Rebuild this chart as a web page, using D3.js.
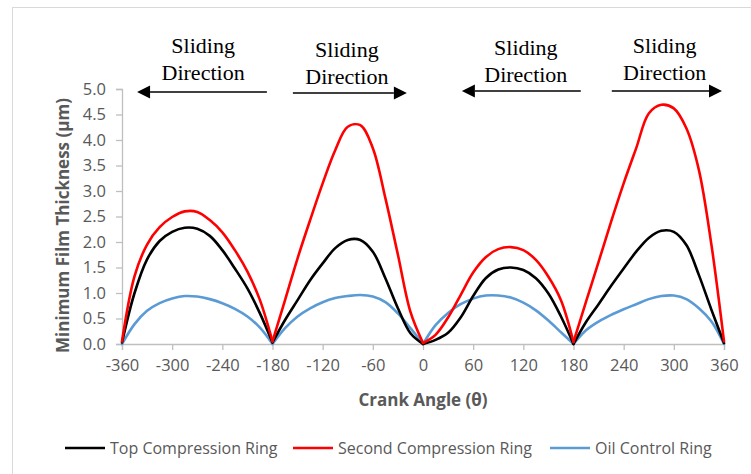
<!DOCTYPE html>
<html>
<head>
<meta charset="utf-8">
<script src="https://cdn.jsdelivr.net/npm/d3@7"></script>
<style>
  html, body { margin: 0; padding: 0; background: #fff; }
  svg { display: block; }
</style>
</head>
<body>
<svg id="chart" width="751" height="474"></svg>
<script>
// ---- Data ----
const crankAngles = [
  -360,-345,-330,-315,-300,-285,-270,-255,-240,-225,-210,-195,
  -180,-165,-150,-135,-120,-105,-90,-75,-60,-45,-30,-15,
  0,15,30,45,60,75,90,105,120,135,150,165,
  180,195,210,225,240,255,270,285,300,315,330,345,360
];
const topCompression = [
  0.03,1.00,1.66,2.02,2.20,2.28,2.26,2.12,1.84,1.48,1.09,0.60,
  0.03,0.47,0.86,1.25,1.58,1.88,2.04,2.04,1.81,1.29,0.70,0.21,
  0.00,0.08,0.22,0.52,0.94,1.29,1.46,1.50,1.45,1.29,0.99,0.54,
  0.00,0.43,0.78,1.14,1.48,1.81,2.08,2.22,2.20,1.94,1.35,0.67,0.02
];
const secondCompression = [
  0.05,1.33,1.95,2.29,2.49,2.60,2.59,2.43,2.19,1.84,1.42,0.86,
  0.05,0.86,1.68,2.43,3.15,3.80,4.26,4.29,3.84,2.86,1.75,0.63,
  0.02,0.18,0.52,0.96,1.40,1.70,1.86,1.90,1.84,1.65,1.32,0.86,
  0.04,0.83,1.61,2.40,3.15,3.84,4.52,4.69,4.62,4.23,3.41,1.94,0.05
];
const oilControl = [
  0.00,0.39,0.65,0.80,0.89,0.94,0.93,0.88,0.80,0.69,0.54,0.32,
  0.00,0.31,0.54,0.70,0.82,0.90,0.94,0.96,0.93,0.82,0.60,0.31,
  0.00,0.37,0.61,0.78,0.89,0.95,0.95,0.91,0.81,0.66,0.46,0.23,
  0.00,0.27,0.44,0.57,0.68,0.78,0.88,0.94,0.95,0.88,0.70,0.44,0.00
];
const strokeBreaks = [-360, -180, 0, 180, 360];   // TDC/BDC reversal points
const xTicks = [-360,-300,-240,-180,-120,-60,0,60,120,180,240,300,360];
const yTicks = [0,0.5,1,1.5,2,2.5,3,3.5,4,4.5,5];
const seriesNames = ["Top Compression Ring", "Second Compression Ring", "Oil Control Ring"];
const seriesColors = ["#000000", "#ff0000", "#5b9bd5"];
// annotations: text centre angle, arrow from/to angle (data units)
const annoCenter = [-263, -91, 123, 289];
const annoFrom   = [-186.7, -155.6, 188.7, 225.8];
const annoTo     = [-342, -19.3, 46.5, 357.6];
const annoLevel  = [4.94, 4.92, 4.96, 4.96];
const annoTextTop = [5.71, 5.63, 5.67, 5.71];
const annoTextBot = [5.18, 5.10, 5.14, 5.18];

// ---- Layout ----
const svg = d3.select("#chart");
const plotLeft = 122, plotRight = 724, plotTop = 89, plotBottom = 344;

svg.append("rect").attr("x", 12.5).attr("y", 7.5).attr("width", 800).attr("height", 500)
  .attr("fill", "none").attr("stroke", "#d9d9d9").attr("stroke-width", 1);

const x = d3.scaleLinear().domain([-360, 360]).range([plotLeft, plotRight]);
const y = d3.scaleLinear().domain([0, 5]).range([plotBottom, plotTop]);

const tickFont = "'Open Sans', sans-serif";

// Y axis
const yAxis = svg.append("g").attr("transform", `translate(${plotLeft},0)`)
  .call(d3.axisLeft(y).tickValues(yTicks).tickFormat(d3.format(".1f")).tickSizeOuter(0).tickSize(6).tickPadding(10));
// X axis
const xAxis = svg.append("g").attr("transform", `translate(0,${plotBottom})`)
  .call(d3.axisBottom(x).tickValues(xTicks).tickFormat(d3.format("d")).tickSizeOuter(0).tickSize(6).tickPadding(9));

[yAxis, xAxis].forEach(g => {
  g.select(".domain").attr("stroke", "#bfbfbf").attr("stroke-width", 1.3);
  g.selectAll(".tick line").attr("stroke", "#bfbfbf").attr("stroke-width", 1.3);
  g.selectAll(".tick text").attr("fill", "#595959")
    .style("font-family", tickFont).style("font-size", "16.5px");
});
xAxis.selectAll(".tick text").text(d => d < 0 ? "-" + Math.abs(d) : d);

// Axis titles
svg.append("text").attr("x", x(0)).attr("y", 406).attr("text-anchor", "middle")
  .style("font-family", tickFont).style("font-size", "17px").style("font-weight", "bold")
  .attr("fill", "#595959").text("Crank Angle (θ)");
svg.append("text").attr("transform", `translate(69,${(plotTop + plotBottom) / 2 + 9}) rotate(-90)`)
  .attr("text-anchor", "middle")
  .style("font-family", tickFont).style("font-size", "17px").style("font-weight", "bold")
  .attr("fill", "#595959").text("Minimum Film Thickness (µm)");

// Lines (each stroke drawn as its own segment so reversal points stay sharp)
const allSeries = [topCompression, secondCompression, oilControl];
const line = d3.line().x(d => x(d[0])).y(d => y(d[1])).curve(d3.curveCatmullRom.alpha(0.5));
const drawOrder = [2, 0, 1];
drawOrder.forEach(si => {
  const vals = allSeries[si];
  for (let k = 0; k < strokeBreaks.length - 1; k++) {
    const seg = crankAngles.map((a, i) => [a, vals[i]])
      .filter(d => d[0] >= strokeBreaks[k] && d[0] <= strokeBreaks[k + 1]);
    svg.append("path").datum(seg).attr("d", line)
      .attr("fill", "none").attr("stroke", seriesColors[si])
      .attr("stroke-width", 2.6).attr("stroke-linejoin", "round").attr("stroke-linecap", "round");
  }
});

// Sliding direction annotations
const serif = "'Liberation Serif', 'Times New Roman', serif";
annoCenter.forEach((c, i) => {
  svg.append("text").attr("x", x(c)).attr("y", y(annoTextTop[i])).attr("text-anchor", "middle")
    .style("font-family", serif).style("font-size", "22px").attr("fill", "#000").text("Sliding");
  svg.append("text").attr("x", x(c)).attr("y", y(annoTextBot[i])).attr("text-anchor", "middle")
    .style("font-family", serif).style("font-size", "22px").attr("fill", "#000").text("Direction");
  const x0 = x(annoFrom[i]), x1 = x(annoTo[i]), yy = y(annoLevel[i]);
  const dir = Math.sign(x1 - x0);
  const headLen = 13, headHalf = 6.5;
  svg.append("line").attr("x1", x0).attr("x2", x1 - dir * headLen).attr("y1", yy).attr("y2", yy)
    .attr("stroke", "#404040").attr("stroke-width", 2);
  svg.append("path")
    .attr("d", `M${x1},${yy} L${x1 - dir * headLen},${yy - headHalf} L${x1 - dir * headLen},${yy + headHalf} Z`)
    .attr("fill", "#000");
});

// Legend
const legendX = [65, 293, 550];
const legendY = 448;
seriesNames.forEach((n, i) => {
  svg.append("line").attr("x1", legendX[i]).attr("x2", legendX[i] + 40)
    .attr("y1", legendY).attr("y2", legendY)
    .attr("stroke", seriesColors[i]).attr("stroke-width", 2.6);
  svg.append("text").attr("x", legendX[i] + 45).attr("y", legendY).attr("dy", "0.35em")
    .style("font-family", tickFont).style("font-size", "16px").attr("fill", "#595959").text(n);
});
</script>
</body>
</html>
